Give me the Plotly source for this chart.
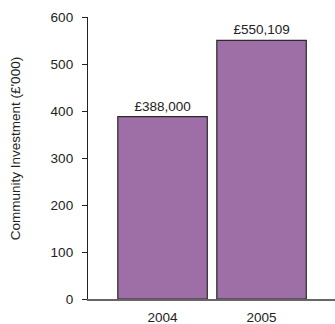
import plotly.graph_objects as go

years = ["2004", "2005"]
values = [388.0, 550.109]
labels = ["£388,000", "£550,109"]
y_ticks = [0, 100, 200, 300, 400, 500, 600]
y_title = "Community Investment (£'000)"

FONT = "Liberation Sans, Arial, Helvetica, sans-serif"
FS = 13.5

fig = go.Figure(
    go.Bar(
        x=years,
        y=values,
        text=labels,
        textposition="outside",
        textfont=dict(family=FONT, size=FS, color="#222"),
        cliponaxis=False,
        width=0.904,
        marker=dict(color="#9e6fa6", line=dict(color="#2a2a2a", width=1.2)),
        hoverinfo="skip",
    )
)

fig.update_layout(
    width=335,
    height=324,
    margin=dict(l=88, r=0, t=17, b=25),
    paper_bgcolor="white",
    plot_bgcolor="white",
    showlegend=False,
    font=dict(family=FONT, size=FS, color="#222"),
    xaxis=dict(
        type="category",
        range=[-0.753, 1.742],
        showline=True,
        linecolor="#666",
        linewidth=2,
        showgrid=False,
        ticks="",
        ticklabelstandoff=5,
        tickfont=dict(family=FONT, size=FS, color="#222"),
        fixedrange=True,
    ),
    yaxis=dict(
        range=[0, 600],
        tickvals=y_ticks,
        showline=True,
        linecolor="#222",
        linewidth=1.3,
        showgrid=False,
        zeroline=False,
        ticks="outside",
        ticklen=5,
        tickcolor="#222",
        ticklabelstandoff=6,
        tickfont=dict(family=FONT, size=FS, color="#222"),
        fixedrange=True,
    ),
    annotations=[
        dict(
            text=y_title,
            textangle=-90,
            xref="paper",
            yref="paper",
            x=-73 / 247,
            y=0.531,
            xanchor="center",
            yanchor="middle",
            showarrow=False,
            font=dict(family=FONT, size=FS, color="#222"),
        )
    ],
)

fig.write_html("out.html")
